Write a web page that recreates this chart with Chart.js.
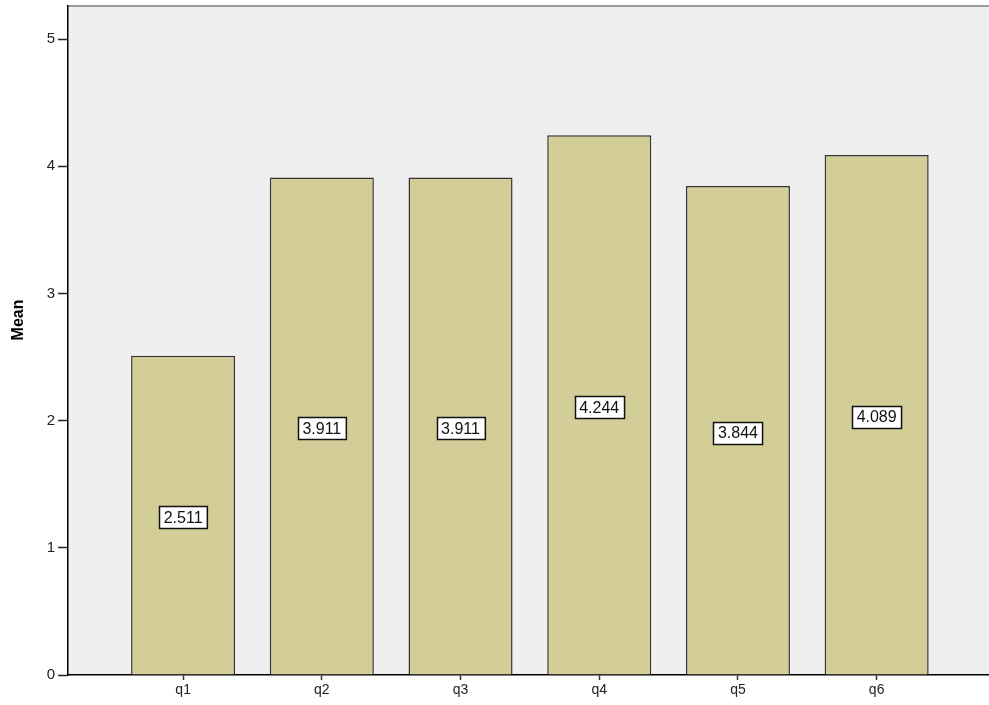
<!DOCTYPE html>
<html>
<head>
<meta charset="utf-8">
<script src="https://cdn.jsdelivr.net/npm/chart.js@4/dist/chart.umd.min.js"></script>
<style>
  html, body { margin: 0; padding: 0; background: #ffffff; }
  #wrap { width: 989px; height: 705px; position: relative; }
</style>
</head>
<body>
<div id="wrap"><canvas id="c"></canvas></div>
<script>
const categories = ["q1", "q2", "q3", "q4", "q5", "q6"];
const means = [2.511, 3.911, 3.911, 4.244, 3.844, 4.089];
const yTicks = [0, 1, 2, 3, 4, 5];
const yTitle = "Mean";

const plotBg = {
  id: 'plotBg',
  beforeDraw(chart) {
    const { ctx, chartArea: a } = chart;
    ctx.save();
    ctx.fillStyle = '#efefef';
    ctx.fillRect(a.left, a.top, a.right - a.left, a.bottom - a.top);
    ctx.strokeStyle = '#9a9a9a';
    ctx.lineWidth = 2;
    ctx.beginPath();
    ctx.moveTo(a.left, a.top);
    ctx.lineTo(a.right, a.top);
    ctx.stroke();
    ctx.restore();
  },
  afterDraw(chart) {
    const { ctx } = chart;
    ctx.save();
    ctx.translate(19, 320);
    ctx.rotate(-Math.PI / 2);
    ctx.font = 'bold 16px "Liberation Sans", Arial, sans-serif';
    ctx.textAlign = 'center';
    ctx.textBaseline = 'middle';
    ctx.fillStyle = '#000000';
    ctx.fillText(yTitle, 0, 0);
    ctx.restore();
  }
};

const barLabels = {
  id: 'barLabels',
  afterDatasetsDraw(chart) {
    const { ctx } = chart;
    const meta = chart.getDatasetMeta(0);
    const ys = chart.scales.y;
    ctx.save();
    ctx.font = '16px "Liberation Sans", Arial, sans-serif';
    ctx.textAlign = 'center';
    ctx.textBaseline = 'middle';
    meta.data.forEach((bar, i) => {
      const txt = means[i].toFixed(3);
      const cy = ys.getPixelForValue(means[i] / 2) + 2;
      const w = ctx.measureText(txt).width + 9;
      const h = 22;
      const x0 = Math.round(bar.x - w / 2) + 0.5;
      const y0 = Math.round(cy - h / 2) + 0.5;
      ctx.fillStyle = '#ffffff';
      ctx.fillRect(x0, y0, w, h);
      ctx.strokeStyle = '#111111';
      ctx.lineWidth = 1.5;
      ctx.strokeRect(x0, y0, w, h);
      ctx.fillStyle = '#111111';
      ctx.fillText(txt, bar.x, cy + 1);
    });
    ctx.restore();
  }
};

new Chart(document.getElementById('c'), {
  type: 'bar',
  data: {
    datasets: [{
      data: means.map((v, i) => ({ x: i, y: v })),
      backgroundColor: '#d3ce97',
      borderColor: '#333333',
      borderWidth: 1.5,
      borderSkipped: 'bottom',
      categoryPercentage: 1.0,
      barPercentage: 0.75
    }]
  },
  options: {
    responsive: true,
    maintainAspectRatio: false,
    animation: false,
    layout: { padding: { top: 6, right: 0, left: 0, bottom: 0 } },
    plugins: {
      legend: { display: false },
      tooltip: { enabled: false }
    },
    scales: {
      x: {
        type: 'linear',
        offset: false,
        min: -0.83,
        max: 5.81,
        afterBuildTicks(scale) {
          scale.ticks = categories.map((_, i) => ({ value: i }));
        },
        afterFit(scale) { scale.height = 30; scale.paddingLeft = 0; scale.paddingRight = 0; },
        grid: {
          display: true,
          offset: false,
          drawOnChartArea: false,
          drawTicks: true,
          tickLength: 5,
          tickWidth: 1.5,
          tickColor: '#333333'
        },
        border: { display: true, color: '#000000', width: 1.5 },
        ticks: {
          autoSkip: false,
          maxRotation: 0,
          padding: 2,
          color: '#222222',
          font: { family: '"Liberation Sans", Arial, sans-serif', size: 14 },
          callback: (v) => categories[v]
        }
      },
      y: {
        min: 0,
        max: 5.26,
        afterBuildTicks(scale) {
          scale.ticks = yTicks.map(v => ({ value: v }));
        },
        afterFit(scale) { scale.width = 68; scale.paddingTop = 0; scale.paddingBottom = 0; },
        grid: {
          display: true,
          drawOnChartArea: false,
          drawTicks: true,
          tickLength: 10,
          tickWidth: 1.5,
          tickColor: '#222222'
        },
        border: { display: true, color: '#000000', width: 1.5 },
        ticks: {
          padding: 3,
          color: '#222222',
          font: { family: '"Liberation Sans", Arial, sans-serif', size: 15 }
        }
      }
    }
  },
  plugins: [plotBg, barLabels]
});
</script>
</body>
</html>
